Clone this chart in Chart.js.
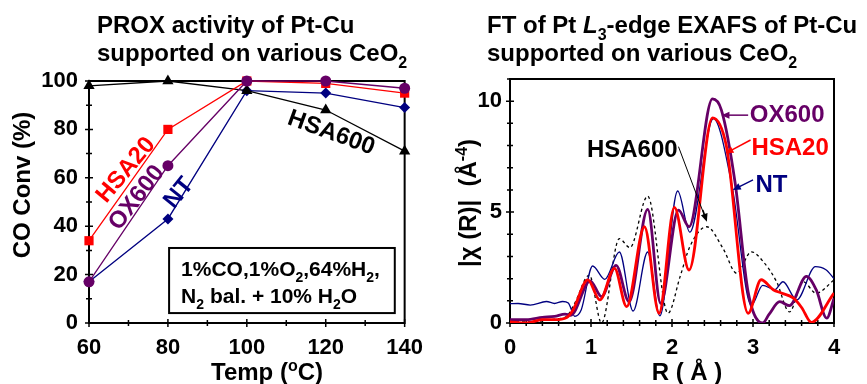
<!DOCTYPE html>
<html>
<head>
<meta charset="utf-8">
<script src="https://cdn.jsdelivr.net/npm/chart.js@4.4.1/dist/chart.umd.min.js"></script>
<style>
  html, body { margin: 0; padding: 0; background: #fff; overflow: hidden; }
  #wrap { position: relative; width: 867px; height: 384px; }
  #proxChart { position: absolute; left: 0; top: 0; }
  #exafsChart { position: absolute; left: 435px; top: 0; }
</style>
</head>
<body>
<div id="wrap">
  <canvas id="proxChart" width="435" height="384"></canvas>
  <canvas id="exafsChart" width="432" height="384"></canvas>
</div>
<script>
// --- PROX activity (left panel) ---
const temps = [60, 80, 100, 120, 140];
const convHSA600 = [98, 100, 96, 88, 71];
const convHSA20 = [34, 80, 100, 99, 95];
const convOX600 = [17, 65, 100, 100, 97];
const convNT = [17, 43, 96, 95, 89];

// --- FT of EXAFS (right panel), R in Angstrom ---
const rNT = [0, 0.1, 0.25, 0.45, 0.55, 0.65, 0.72, 0.8, 0.88, 1.02, 1.17, 1.35, 1.52, 1.70, 1.85, 2.07, 2.22, 2.51, 2.74, 2.98, 3.12, 3.27, 3.37, 3.54, 3.77, 3.9, 4.0];
const ftNT = [0.87, 0.88, 0.81, 0.97, 0.88, 0.97, 0.9, 0.3, 0.6, 2.57, 1.97, 3.2, 0.54, 3.2, 0.32, 5.95, 4.1, 9.22, 6.2, 0.8, 1.7, 1.5, 1.86, 1.04, 2.54, 2.4, 2.0];

const rHSA20 = [0, 0.2, 0.4, 0.55, 0.7, 0.78, 0.96, 1.11, 1.29, 1.44, 1.66, 1.84, 2.03, 2.21, 2.50, 2.67, 2.94, 3.10, 3.25, 3.35, 3.5, 3.6, 3.72, 4.0];
const ftHSA20 = [0.05, 0.0, 0.15, 0.15, 0.25, 0.6, 1.94, 1.04, 2.46, 0.74, 4.34, 0.44, 5.21, 2.39, 9.25, 8.0, 0.44, 1.95, 1.5, 1.35, 1.12, 0.7, 0.03, 1.35];

const rOX600 = [0, 0.2, 0.4, 0.55, 0.68, 0.75, 0.99, 1.13, 1.31, 1.47, 1.70, 1.86, 2.08, 2.21, 2.50, 2.61, 2.78, 2.94, 3.12, 3.20, 3.33, 3.45, 3.66, 3.78, 3.91, 4.0];
const ftOX600 = [0.15, 0.15, 0.25, 0.3, 0.4, 0.35, 1.9, 1.19, 2.6, 0.96, 5.12, 0.89, 5.09, 4.34, 10.1, 9.6, 6.3, 1.4, 0.0, 0.4, 0.96, 0.78, 2.1, 1.5, 0.22, 1.1];

const rHSA600 = [0, 0.2, 0.4, 0.6, 0.7, 0.8, 0.98, 1.13, 1.35, 1.48, 1.70, 1.95, 2.10, 2.22, 2.43, 2.63, 2.80, 2.98, 3.13, 3.29, 3.45, 3.62, 3.78, 4.0];
const ftHSA600 = [0.05, 0.05, 0.1, 0.2, 0.3, 0.9, 2.16, 0.0, 3.8, 3.4, 5.72, 0.44, 2.09, 3.44, 4.34, 3.36, 2.24, 3.21, 2.75, 1.87, 0.5, 1.86, 1.34, 1.94];

const FONT = '"Liberation Sans", Arial, sans-serif';
const PURPLE = '#660066';
const NAVY = '#000080';
const RED = '#ff0000';

function xy(xs, ys) {
    return xs.map((x, i) => ({ x: x, y: ys[i] }));
}

// draws a row of text pieces, some of them sub- or superscript
function drawRich(ctx, parts, x, y, size, align) {
    const base = 'bold ' + size + 'px ' + FONT;
    const small = 'bold ' + Math.round(size * 0.68) + 'px ' + FONT;
    let total = 0;
    parts.forEach(p => {
        ctx.font = (p.italic ? 'italic ' : '') + (p.sub || p.sup ? small : base);
        p.w = ctx.measureText(p.t).width;
        total += p.w;
    });
    let cx = align === 'center' ? x - total / 2 : x;
    ctx.textAlign = 'left';
    ctx.textBaseline = 'alphabetic';
    parts.forEach(p => {
        ctx.font = (p.italic ? 'italic ' : '') + (p.sub || p.sup ? small : base);
        let dy = p.sub ? size * 0.28 : (p.sup ? -size * 0.38 : 0);
        ctx.fillText(p.t, cx, y + dy);
        cx += p.w;
    });
}

function drawFrameAndTicks(chart) {
    const ctx = chart.ctx;
    const a = chart.chartArea;
    const xs = chart.scales.x;
    const ys = chart.scales.y;
    ctx.save();
    ctx.strokeStyle = '#000';
    ctx.lineWidth = 1.5;
    ctx.beginPath();
    xs.ticks.forEach(t => {
        const p = xs.getPixelForValue(t.value);
        const l = t.label !== '' ? 4 : 3;
        ctx.moveTo(p, a.bottom - l);
        ctx.lineTo(p, a.bottom + l);
    });
    ys.ticks.forEach(t => {
        const p = ys.getPixelForValue(t.value);
        const l = t.label !== '' ? 4 : 3;
        ctx.moveTo(a.left - l, p);
        ctx.lineTo(a.left + l, p);
    });
    ctx.stroke();
    ctx.lineWidth = 2;
    ctx.strokeRect(a.left, a.top, a.right - a.left, a.bottom - a.top);
    ctx.restore();
}

function drawRotated(ctx, text, x, y, angle, color, size) {
    ctx.save();
    ctx.translate(x, y);
    ctx.rotate(angle * Math.PI / 180);
    ctx.fillStyle = color;
    ctx.font = 'bold ' + size + 'px ' + FONT;
    ctx.textAlign = 'center';
    ctx.textBaseline = 'middle';
    ctx.fillText(text, 0, 0);
    ctx.restore();
}

function drawArrow(ctx, x1, y1, x2, y2, color) {
    const ang = Math.atan2(y2 - y1, x2 - x1);
    const hl = 8, hw = 3.5;
    ctx.save();
    ctx.strokeStyle = color;
    ctx.fillStyle = color;
    ctx.lineWidth = 1.5;
    ctx.beginPath();
    ctx.moveTo(x1, y1);
    ctx.lineTo(x2 - Math.cos(ang) * hl * 0.8, y2 - Math.sin(ang) * hl * 0.8);
    ctx.stroke();
    ctx.beginPath();
    ctx.moveTo(x2, y2);
    ctx.lineTo(x2 - Math.cos(ang) * hl - Math.sin(ang) * hw, y2 - Math.sin(ang) * hl + Math.cos(ang) * hw);
    ctx.lineTo(x2 - Math.cos(ang) * hl + Math.sin(ang) * hw, y2 - Math.sin(ang) * hl - Math.cos(ang) * hw);
    ctx.closePath();
    ctx.fill();
    ctx.restore();
}

function tickFont() {
    return { family: FONT, size: 22, weight: 'bold' };
}

// --- Left chart decorations ---
const proxDeco = {
    id: 'proxDeco',
    beforeDatasetsDraw(chart) {
        drawFrameAndTicks(chart);
    },
    afterDraw(chart) {
        const ctx = chart.ctx;
        const xs = chart.scales.x;
        const ys = chart.scales.y;
        const X = v => xs.getPixelForValue(v);
        const Y = v => ys.getPixelForValue(v);
        ctx.save();
        ctx.fillStyle = '#000';
        drawRich(ctx, [{ t: 'PROX activity of Pt-Cu' }], 97, 33, 24, 'left');
        drawRich(ctx, [{ t: 'supported on various CeO' }, { t: '2', sub: true }], 97, 61, 24, 'left');
        drawRich(ctx, [{ t: 'Temp (' }, { t: 'o', sup: true }, { t: 'C)' }], 267, 380, 24, 'center');

        ctx.save();
        ctx.translate(22, 185);
        ctx.rotate(-Math.PI / 2);
        drawRich(ctx, [{ t: 'CO Conv (%)' }], 0, 8, 24, 'center');
        ctx.restore();

        // series labels
        drawRotated(ctx, 'HSA20', X(69.4), Y(63.2), -50, RED, 24);
        drawRotated(ctx, 'OX600', X(72.1), Y(51.7), -52, PURPLE, 24);
        drawRotated(ctx, 'NT', X(82.8), Y(53.7), -51, NAVY, 24);
        drawRotated(ctx, 'HSA600', X(121.4), Y(78.5), 20, '#000', 24);

        // conditions box
        const bx1 = X(80.3), bx2 = X(137.5), by1 = Y(31), by2 = Y(4.1);
        ctx.fillStyle = '#fff';
        ctx.fillRect(bx1, by1, bx2 - bx1, by2 - by1);
        ctx.strokeStyle = '#000';
        ctx.lineWidth = 2;
        ctx.strokeRect(bx1, by1, bx2 - bx1, by2 - by1);
        ctx.fillStyle = '#000';
        drawRich(ctx, [{ t: '1%CO,1%O' }, { t: '2', sub: true }, { t: ',64%H' }, { t: '2', sub: true }, { t: ',' }], bx1 + 12, by1 + 28, 21, 'left');
        drawRich(ctx, [{ t: 'N' }, { t: '2', sub: true }, { t: ' bal. + 10% H' }, { t: '2', sub: true }, { t: 'O' }], bx1 + 12, by1 + 55, 21, 'left');
        ctx.restore();
    }
};

const proxSeries = (label, data, color, style, radius) => ({
    label: label,
    data: xy(temps, data),
    borderColor: color,
    backgroundColor: color,
    borderWidth: 1.3,
    pointStyle: style,
    pointRadius: radius,
    pointBorderWidth: 0,
    tension: 0,
    clip: false
});

new Chart(document.getElementById('proxChart').getContext('2d'), {
    type: 'line',
    data: {
        datasets: [
            proxSeries('OX600', convOX600, PURPLE, 'circle', 5.5),
            proxSeries('HSA20', convHSA20, RED, 'rect', 6.5),
            proxSeries('HSA600', convHSA600, '#000', 'triangle', 6.5),
            proxSeries('NT', convNT, NAVY, 'rectRot', 5.5)
        ]
    },
    options: {
        responsive: false,
        animation: false,
        devicePixelRatio: 1,
        layout: { padding: { top: 81, right: 23, left: 0, bottom: 0 } },
        plugins: { legend: { display: false }, tooltip: { enabled: false } },
        scales: {
            x: {
                type: 'linear', min: 60, max: 140,
                afterFit: s => { s.height = 61; },
                grid: { display: false, drawTicks: false },
                border: { display: false },
                ticks: {
                    stepSize: 10, autoSkip: false, maxRotation: 0, padding: 12,
                    color: '#000', font: tickFont(),
                    callback: v => (v % 20 === 0 ? String(v) : '')
                }
            },
            y: {
                min: 0, max: 100,
                afterFit: s => { s.width = 89; },
                grid: { display: false, drawTicks: false },
                border: { display: false },
                ticks: {
                    stepSize: 10, autoSkip: false, padding: 11,
                    color: '#000', font: tickFont(),
                    callback: v => (v % 20 === 0 ? String(v) : '')
                }
            }
        }
    },
    plugins: [proxDeco]
});

// --- Right chart decorations ---
const exafsDeco = {
    id: 'exafsDeco',
    beforeDatasetsDraw(chart) {
        drawFrameAndTicks(chart);
    },
    afterDraw(chart) {
        const ctx = chart.ctx;
        const xs = chart.scales.x;
        const ys = chart.scales.y;
        const X = v => xs.getPixelForValue(v);
        const Y = v => ys.getPixelForValue(v);
        ctx.save();
        ctx.fillStyle = '#000';
        drawRich(ctx, [{ t: 'FT of Pt ' }, { t: 'L', italic: true }, { t: '3', sub: true }, { t: '-edge EXAFS of Pt-Cu' }], 52, 33, 24, 'left');
        drawRich(ctx, [{ t: 'supported on various CeO' }, { t: '2', sub: true }], 52, 61, 24, 'left');
        drawRich(ctx, [{ t: 'R ( Å )' }], 252, 380, 24, 'center');

        ctx.save();
        ctx.translate(33, 203);
        ctx.rotate(-Math.PI / 2);
        drawRich(ctx, [{ t: '|χ (R)|  (Å' }, { t: '-4', sup: true }, { t: ')' }], 0, 8, 24, 'center');
        ctx.restore();

        const lab = (text, r, v, color) => {
            ctx.fillStyle = color;
            ctx.font = 'bold 24px ' + FONT;
            ctx.textAlign = 'left';
            ctx.textBaseline = 'middle';
            ctx.fillText(text, X(r), Y(v));
        };
        lab('OX600', 2.96, 9.37, PURPLE);
        drawArrow(ctx, X(2.94), Y(9.37), X(2.61), Y(9.37), PURPLE);
        lab('HSA20', 2.98, 7.87, RED);
        drawArrow(ctx, X(2.97), Y(8.25), X(2.66), Y(7.65), RED);
        lab('NT', 3.03, 6.22, NAVY);
        drawArrow(ctx, X(3.0), Y(6.45), X(2.75), Y(6.0), NAVY);

        ctx.fillStyle = '#000';
        ctx.font = 'bold 24px ' + FONT;
        ctx.textAlign = 'center';
        ctx.textBaseline = 'middle';
        ctx.fillText('HSA600', X(1.51), Y(7.8));
        ctx.save();
        ctx.lineWidth = 1;
        ctx.strokeStyle = '#000';
        ctx.beginPath();
        ctx.moveTo(X(2.08), Y(7.95));
        ctx.lineTo(X(2.41), Y(4.75));
        ctx.stroke();
        ctx.restore();
        drawArrow(ctx, X(2.38), Y(5.1), X(2.43), Y(4.57), '#000');
        ctx.restore();
    }
};

const ftSeries = (label, rs, vs, color, width, dash) => ({
    label: label,
    data: xy(rs, vs),
    borderColor: color,
    borderWidth: width,
    borderDash: dash,
    pointRadius: 0,
    fill: false,
    cubicInterpolationMode: 'monotone'
});

new Chart(document.getElementById('exafsChart').getContext('2d'), {
    type: 'line',
    data: {
        datasets: [
            ftSeries('HSA20', rHSA20, ftHSA20, RED, 2.8, []),
            ftSeries('OX600', rOX600, ftOX600, PURPLE, 2.8, []),
            ftSeries('NT', rNT, ftNT, NAVY, 1.3, []),
            ftSeries('HSA600', rHSA600, ftHSA600, '#000', 1.3, [3, 3])
        ]
    },
    options: {
        responsive: false,
        animation: false,
        devicePixelRatio: 1,
        layout: { padding: { top: 79, right: 33, left: 0, bottom: 0 } },
        plugins: { legend: { display: false }, tooltip: { enabled: false } },
        scales: {
            x: {
                type: 'linear', min: 0, max: 4,
                afterFit: s => { s.height = 61; },
                grid: { display: false, drawTicks: false },
                border: { display: false },
                ticks: {
                    stepSize: 0.2, autoSkip: false, maxRotation: 0, padding: 12,
                    color: '#000', font: tickFont(),
                    callback: v => (Math.abs(v - Math.round(v)) < 1e-6 ? String(Math.round(v)) : '')
                }
            },
            y: {
                min: 0, max: 11,
                afterFit: s => { s.width = 75; },
                grid: { display: false, drawTicks: false },
                border: { display: false },
                ticks: {
                    stepSize: 1, autoSkip: false, padding: 8,
                    color: '#000', font: tickFont(),
                    callback: v => (v % 5 === 0 ? String(v) : '')
                }
            }
        }
    },
    plugins: [exafsDeco]
});
</script>
</body>
</html>
